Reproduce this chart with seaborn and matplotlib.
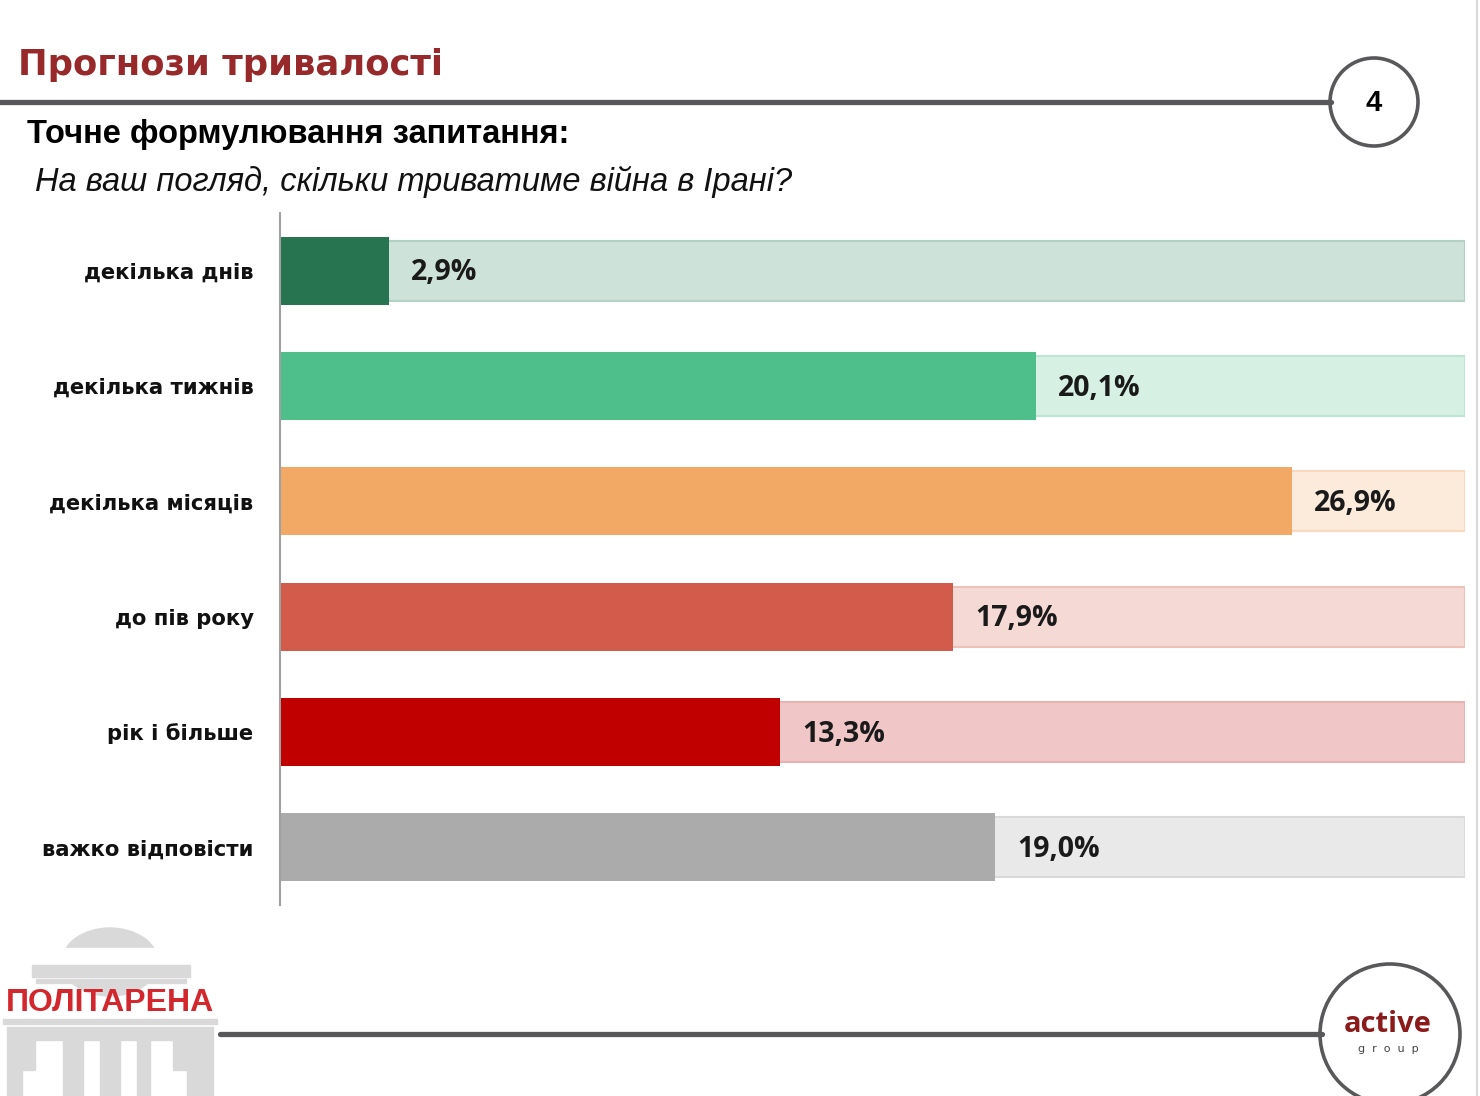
import matplotlib
matplotlib.use("Agg")
import matplotlib.pyplot as plt
import matplotlib.patches as mpatches
import numpy as np
import pandas as pd
import seaborn as sns

# data
categories = ["декілька днів", "декілька тижнів", "декілька місяців",
              "до пів року", "рік і більше", "важко відповісти"]
values = [2.9, 20.1, 26.9, 17.9, 13.3, 19.0]
labels = ["2,9%", "20,1%", "26,9%", "17,9%", "13,3%", "19,0%"]

bar_colors = ["#267550", "#4EBF8A", "#F2A966", "#D35B4B", "#C00000", "#ABABAB"]
track_colors = ["#CDE2D8", "#D6F0E4", "#FCEADB", "#F5D9D5", "#F0C6C6", "#E9E9E9"]
track_edges = ["#B3D1C3", "#BDE6D2", "#F8D8BE", "#EDC0BA", "#E7B2B2", "#D9D9D9"]

W, H = 1480, 1096
full_scale = 31.5

sns.set_style("white")
plt.rcParams["font.family"] = ["DejaVu Sans"]
plt.rcParams["text.color"] = "black"

fig = plt.figure(figsize=(W / 100, H / 100), dpi=100)


def fx(x):
    return x / W


def fy(y):
    return 1 - y / H


ax = fig.add_axes([fx(280), fy(905), (1465 - 280) / W, (905 - 213) / H])

df = pd.DataFrame({"cat": categories, "val": values, "full": full_scale})

# background tracks
sns.barplot(data=df, y="cat", x="full", orient="h", ax=ax, width=0.52,
            hue="cat", palette=track_colors, legend=False, saturation=1)
for p, ec in zip(ax.patches, track_edges):
    p.set_edgecolor(ec)
    p.set_linewidth(1.5)
n_bg = len(ax.patches)

# value bars
sns.barplot(data=df, y="cat", x="val", orient="h", ax=ax, width=0.59,
            hue="cat", palette=bar_colors, legend=False, saturation=1)
for p in ax.patches[n_bg:]:
    p.set_linewidth(0)

for i, (v, lab) in enumerate(zip(values, labels)):
    ax.annotate(lab, (v, i), xytext=(16, -1.5), textcoords="offset points",
                ha="left", va="center", fontsize=20.5, fontweight="bold",
                family=["Open Sans", "DejaVu Sans"], color="#1a1a1a")

ax.set_xlim(0, full_scale)
ax.set_ylim(len(categories) - 0.5, -0.5)
ax.set_xlabel("")
ax.set_ylabel("")
ax.set_xticks([])
ax.set_yticks(range(len(categories)))
ax.set_yticklabels(categories, fontsize=15.2, fontweight="bold", color="#111111")
ax.tick_params(axis="y", which="major", length=0, pad=19)
ax.set_yticks(np.arange(-0.5, len(categories)), minor=True)
ax.tick_params(axis="y", which="minor", length=6, width=1.2, color="#A0A0A0")
for s in ["top", "right", "bottom"]:
    ax.spines[s].set_visible(False)
ax.spines["left"].set_color("#A0A0A0")
ax.spines["left"].set_linewidth(1.5)

# header
fig.text(fx(18), fy(65), "Прогнози тривалості", fontsize=25.5, fontweight="bold",
         color="#98292A", ha="left", va="center")
fig.add_artist(plt.Line2D([0, fx(1331)], [fy(102), fy(102)], color="#58585A", lw=3.8))
fig.add_artist(mpatches.Ellipse((fx(1374), fy(102)), 88 / W, 88 / H, fill=False,
                                edgecolor="#58585A", lw=2.6))
fig.text(fx(1374), fy(103), "4", fontsize=21, fontweight="bold",
         family=["Liberation Sans"], ha="center", va="center")
fig.text(fx(27), fy(135), "Точне формулювання запитання:", fontsize=23.5,
         fontweight="bold", family=["Liberation Sans"], ha="left", va="center")
fig.text(fx(35), fy(182), "На ваш погляд, скільки триватиме війна в Ірані?",
         fontsize=23.5, style="italic", family=["Liberation Sans"],
         ha="left", va="center", color="#111111")

# footer
fig.add_artist(plt.Line2D([fx(220), fx(1322)], [fy(1034), fy(1034)], color="#58585A", lw=3.8))
fig.add_artist(mpatches.Ellipse((fx(1390), fy(1034)), 140 / W, 140 / H, fill=False,
                                edgecolor="#58585A", lw=2.6))
fig.text(fx(1388), fy(1025), "active", fontsize=21, fontweight="bold",
         family=["Open Sans", "DejaVu Sans"], color="#8B1A1A", ha="center", va="center")
fig.text(fx(1388), fy(1049), "g  r  o  u  p", fontsize=8, color="#444444",
         ha="center", va="center")
fig.add_artist(plt.Line2D([fx(1477), fx(1477)], [0, 1], color="#D8D8D8", lw=1.5))

# politarena logo
grey = "#D9D9D9"
fig.add_artist(mpatches.Ellipse((fx(110), fy(962)), 96 / W, 68 / H, color=grey))
fig.add_artist(mpatches.Rectangle((fx(25), fy(978)), 170 / W, 30 / H, color="white"))
fig.add_artist(mpatches.Rectangle((fx(32), fy(977)), 158 / W, 12 / H, color=grey))
fig.add_artist(mpatches.Rectangle((fx(36), fy(983)), 150 / W, 4 / H, color=grey))
fig.add_artist(mpatches.Rectangle((fx(3), fy(1024)), 214 / W, 5 / H, color=grey))
fig.add_artist(mpatches.Rectangle((fx(7), fy(1040)), 206 / W, 13 / H, color=grey))
for x0, x1, ytop in [(7, 22, 1040), (22, 35, 1040), (63, 83, 1040), (100, 120, 1040),
                     (137, 150, 1040), (173, 187, 1040), (187, 213, 1040)]:
    ybot = 1070 if (x0, x1) in [(22, 35), (173, 187)] else 1096
    fig.add_artist(mpatches.Rectangle((fx(x0), fy(ybot)), (x1 - x0) / W,
                                      (ybot - ytop) / H, color=grey))
fig.text(fx(110), fy(1003), "ПОЛІТАРЕНА", fontsize=23, fontweight="bold",
         family=["Liberation Sans"], color="#D3272E", ha="center", va="center")

fig.savefig("out.png", dpi=100)
